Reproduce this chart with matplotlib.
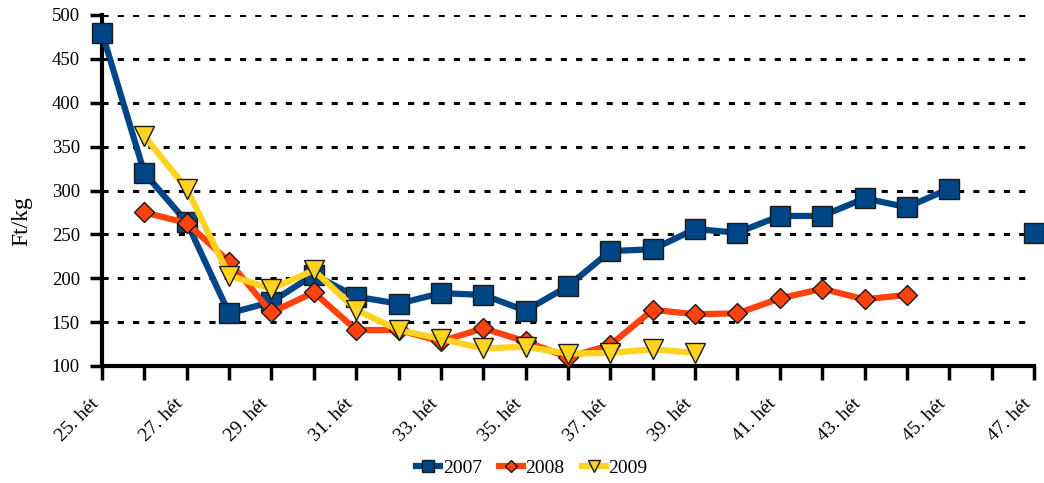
import matplotlib
matplotlib.use("Agg")
import matplotlib.pyplot as plt
import matplotlib.transforms as mtransforms
import numpy as np

weeks = list(range(25, 48))
week_labels = [f"{w}. hét" for w in weeks]

nan = np.nan
s2007 = [480, 320, 264, 160, 173, 204, 179, 171, 183, 181, 163, 191, 231, 233, 256, 252, 271, 271, 291, 281, 302, nan, 251]
s2008 = [nan, 275, 263, 219, 161, 184, 141, 141, 128, 143, 128, 110, 124, 164, 159, 160, 177, 188, 176, 181, nan, nan, nan]
s2009 = [nan, 362, 302, 203, 188, 209, 164, 141, 131, 120, 122, 114, 115, 119, 115, nan, nan, nan, nan, nan, nan, nan, nan]

series_names = ["2007", "2008", "2009"]
colors = ["#004586", "#ff420e", "#ffd320"]
markers = ["s", "D", "v"]
msizes = [14, 10, 14]

plt.rcParams['font.family'] = ['Liberation Serif', 'DejaVu Serif']

fig = plt.figure(figsize=(10.44, 4.83), dpi=100)
ax = fig.add_axes([102/1044, 1-366/483, (1034-102)/1044, (366-15)/483])

x = np.array(weeks)
for data, name, c, m, ms in zip([s2007, s2008, s2009], series_names, colors, markers, msizes):
    ax.plot(x, data, color=c, lw=4.5, marker=m, markersize=ms,
            markerfacecolor=c, markeredgecolor="#1a1a1a", markeredgewidth=1.0,
            label=name, solid_joinstyle='round', zorder=3, clip_on=False)

ax.set_xlim(25, 47)
ax.set_ylim(100, 500)
ax.set_yticks(np.arange(100, 501, 50))
ax.yaxis.grid(True, color='black', linestyle=(0, (2, 3)), linewidth=2.2)
ax.set_axisbelow(True)

ax.set_xticks(x)
ax.set_xticklabels([lab if i % 2 == 0 else "" for i, lab in enumerate(week_labels)],
                   rotation=45, ha='right', fontsize=14)
offset = mtransforms.ScaledTranslation(7/100, 0, fig.dpi_scale_trans)
for lbl in ax.get_xticklabels():
    lbl.set_transform(lbl.get_transform() + offset)

ax.tick_params(axis='x', length=10, width=2.5, direction='out', pad=11, colors='black')
ax.tick_params(axis='y', length=9, width=2.5, direction='out', pad=7, labelsize=13.5)

for side in ['top', 'right']:
    ax.spines[side].set_visible(False)
for side in ['left', 'bottom']:
    ax.spines[side].set_linewidth(3)

ax.set_ylabel("Ft/kg", fontsize=17)
ax.yaxis.set_label_coords(-70/932, (366-221)/351)

leg = fig.legend(loc='center', bbox_to_anchor=(532/1044, 1-468/483), ncol=3,
                 frameon=False, fontsize=14, handlelength=1.2, handletextpad=0.15,
                 columnspacing=0.9, markerscale=0.65)

fig.savefig("out.png", dpi=100)
